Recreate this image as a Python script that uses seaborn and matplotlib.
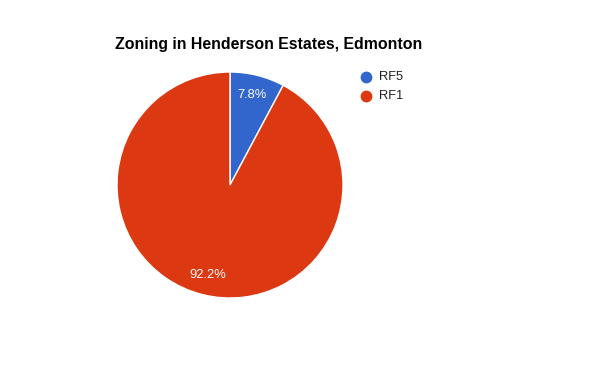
import matplotlib
matplotlib.use("Agg")
import matplotlib.pyplot as plt
from matplotlib.lines import Line2D
import seaborn as sns

categories = ["RF5", "RF1"]
values = [7.8, 92.2]
colors = ["#3366cc", "#dc3912"]
title = "Zoning in Henderson Estates, Edmonton"

sns.set_theme(style="white")
plt.rcParams['font.family'] = ['Liberation Sans', 'DejaVu Sans']

W, H = 600, 371
fig = plt.figure(figsize=(W / 100, H / 100), dpi=100)
fig.patch.set_facecolor("white")

cx, cy, r = 230, 185, 113
ax = fig.add_axes([(cx - r) / W, (H - cy - r) / H, 2 * r / W, 2 * r / H])
wedges, texts, autotexts = ax.pie(
    values, colors=colors, startangle=90, counterclock=False,
    autopct=lambda p: f"{p:.1f}%", pctdistance=0.82,
    wedgeprops=dict(edgecolor="white", linewidth=1),
    textprops=dict(color="white", fontsize=9.3),
)
ax.set_xlim(-1, 1)
ax.set_ylim(-1, 1)
ax.set_aspect("equal")
ax.axis("off")

fig.text(115 / W, 1 - 45 / H, title, fontsize=11.4, fontweight="bold",
         color="black", ha="left", va="center")

for i, (c, col) in enumerate(zip(categories, colors)):
    y = 77 + i * 19
    fig.add_artist(Line2D([366 / W], [1 - y / H], marker="o", markersize=7.5,
                          color=col, linestyle="none", transform=fig.transFigure))
    fig.text(379 / W, 1 - y / H, c, fontsize=9.3, color="#222222",
             ha="left", va="center")

fig.savefig("out.png", dpi=100, facecolor="white")
